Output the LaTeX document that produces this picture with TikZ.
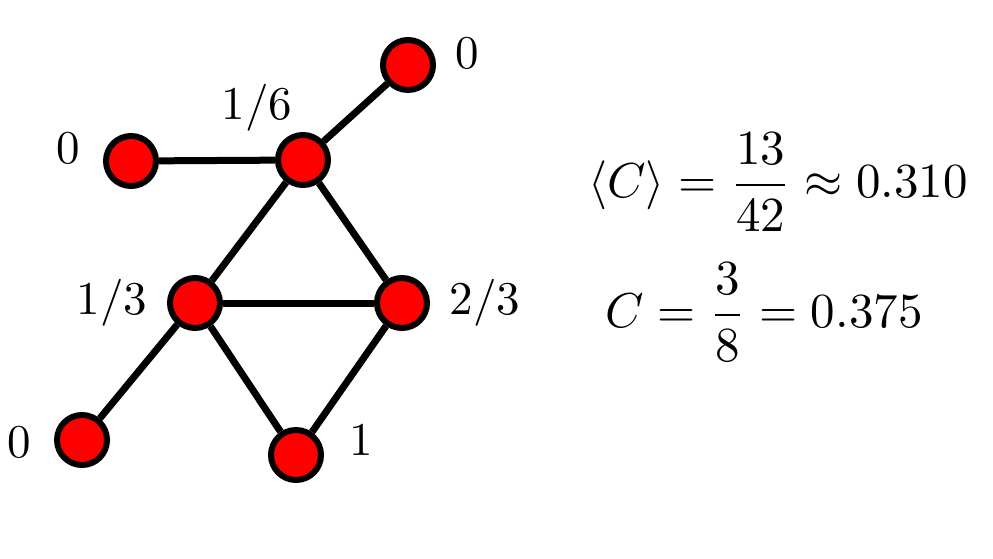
\documentclass[tikz,border=0pt]{standalone}
\begin{document}
\begin{tikzpicture}[x=1pt,y=-1pt,
  vtx/.style={circle,draw=black,line width=6pt,fill=red,minimum size=50pt,inner sep=0pt},
  edge/.style={line width=7pt,draw=black},
  lbl/.style={scale=4.7,inner sep=0pt},
  eqn/.style={scale=4.9,inner sep=0pt}]
\useasboundingbox (0,0) rectangle (993,559);
\node[vtx] (a) at (408,65) {};
\node[vtx] (b) at (303,160) {};
\node[vtx] (c) at (131,161) {};
\node[vtx] (d) at (195,303) {};
\node[vtx] (e) at (402,303) {};
\node[vtx] (g) at (82,440) {};
\node[vtx] (f) at (296,455) {};
\draw[edge] (a) -- (b);
\draw[edge] (c) -- (b);
\draw[edge] (b) -- (d);
\draw[edge] (b) -- (e);
\draw[edge] (d) -- (e);
\draw[edge] (d) -- (g);
\draw[edge] (d) -- (f);
\draw[edge] (e) -- (f);
\node[lbl] (la) at (467,53) {0};
\node[lbl] (lb) at (257,108) {1/6};
\node[lbl] (lc) at (68,148) {0};
\node[lbl] (ld) at (112,303) {1/3};
\node[lbl] (le) at (485,303) {2/3};
\node[lbl] (lg) at (19,442) {0};
\node[lbl] (lf) at (361,440) {1};
\node[eqn] (eq1) at (778,182) {$\displaystyle \langle C\rangle = \frac{13}{42} \approx 0.310$};
\node[eqn] (eq2) at (764,312) {$\displaystyle C = \frac{3}{8} = 0.375$};
\end{tikzpicture}
\end{document}
